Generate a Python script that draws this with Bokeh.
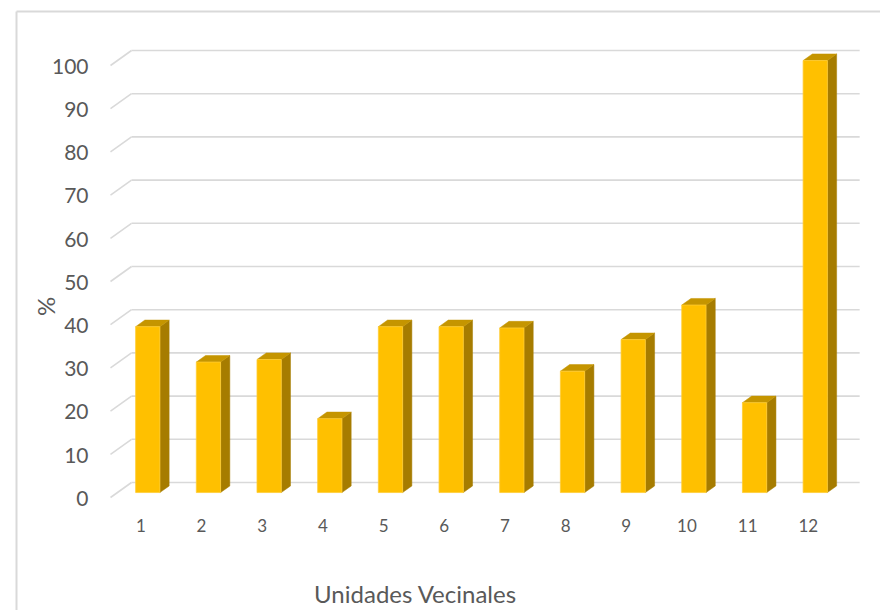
from bokeh.plotting import figure
from bokeh.models import Range1d
from bokeh.core.properties import value
from bokeh.embed import file_html
from bokeh.resources import INLINE

# ---- data ----
categories = ["1", "2", "3", "4", "5", "6", "7", "8", "9", "10", "11", "12"]
values = [38.4, 30.2, 30.8, 17.1, 38.4, 38.4, 38.1, 28.1, 35.4, 43.4, 20.8, 100]
y_ticks = [0, 10, 20, 30, 40, 50, 60, 70, 80, 90, 100]
x_title = "Unidades Vecinales"
y_title = "%"

# ---- canvas / scale set-up (whole canvas is the plotting frame) ----
WIDTH, HEIGHT = 880, 610
PX0, SX = 110.0, 60.68     # pixel of x=0.5 (front of floor), px per category
PY0, SY = 497.0, 4.32      # pixel of y=0 (front of floor), px per unit


def xd(px):
    return 0.5 + (px - PX0) / SX


def yd(py):
    return (PY0 - py) / SY


# 3D geometry (data units)
DX = 21 / SX
DY = 15 / SY
F1, F2 = 0.33, 0.77
W = 0.40
X0 = 0.5
X_END = X0 + len(categories) + DX

FRONT = "#FFC000"
SIDE = "#A67C00"
TOP = "#C59500"
GRID = "#D9D9D9"
TEXT = "#595959"
FONT = "Lato"

p = figure(width=WIDTH, height=HEIGHT, output_backend="svg", toolbar_location=None,
           x_range=Range1d(xd(0), xd(WIDTH)), y_range=Range1d(yd(HEIGHT), yd(0)),
           min_border=0, min_border_left=0, min_border_right=0,
           min_border_top=0, min_border_bottom=0)
p.axis.visible = False
p.xgrid.visible = False
p.ygrid.visible = False
p.outline_line_color = None
p.background_fill_color = "white"
p.border_fill_color = "white"

# chart border (left & top)
p.segment(x0=[xd(16), xd(16)], y0=[yd(11), yd(11)], x1=[xd(16), xd(WIDTH + 5)],
          y1=[yd(HEIGHT + 5), yd(11)], line_color=GRID, line_width=2)

# gridlines: back wall + side diagonals
gx0, gx1, gy0, gy1 = [], [], [], []
for t in y_ticks:
    gx0 += [X0, X0 + DX]
    gx1 += [X0 + DX, X_END]
    gy0 += [t, t + DY]
    gy1 += [t + DY, t + DY]
p.segment(x0=gx0, y0=gy0, x1=gx1, y1=gy1, line_color=GRID, line_width=1.6)

# bars
fx, fy, sx, sy, tx, ty = [], [], [], [], [], []
ddx, ddy = (F2 - F1) * DX, (F2 - F1) * DY
for i, v in enumerate(values):
    c = i + 1
    l = c - W / 2 + F1 * DX
    r = c + W / 2 + F1 * DX
    b = F1 * DY
    tp = v + F1 * DY
    fx.append([l, r, r, l]); fy.append([b, b, tp, tp])
    sx.append([r, r + ddx, r + ddx, r]); sy.append([b, b + ddy, tp + ddy, tp])
    tx.append([l, r, r + ddx, l + ddx]); ty.append([tp, tp, tp + ddy, tp + ddy])

p.patches(sx, sy, fill_color=SIDE, line_color=SIDE, line_width=0.5)
p.patches(tx, ty, fill_color=TOP, line_color=TOP, line_width=0.5)
p.patches(fx, fy, fill_color=FRONT, line_color="#FFCD33", line_width=0.8)

# y tick labels
p.text(x=[xd(88)] * len(y_ticks), y=[t - 0.2 for t in y_ticks], text=[str(t) for t in y_ticks],
       text_font=value(FONT), text_font_size="21px", text_color=TEXT,
       text_align="right", text_baseline="middle")

# x tick labels
p.text(x=list(range(1, len(categories) + 1)), y=[yd(525)] * len(categories), text=categories,
       text_font=value(FONT), text_font_size="17px", text_color=TEXT,
       text_align="center", text_baseline="middle")

# axis titles
p.text(x=[xd(415)], y=[yd(593)], text=[x_title],
       text_font=value(FONT), text_font_size="24px", text_color=TEXT,
       text_align="center", text_baseline="middle")
p.text(x=[xd(45)], y=[yd(306)], text=[y_title], angle=1.5708,
       text_font=value(FONT), text_font_size="24px", text_color=TEXT,
       text_align="center", text_baseline="middle")

open("out.html", "w").write(file_html(p, INLINE))
